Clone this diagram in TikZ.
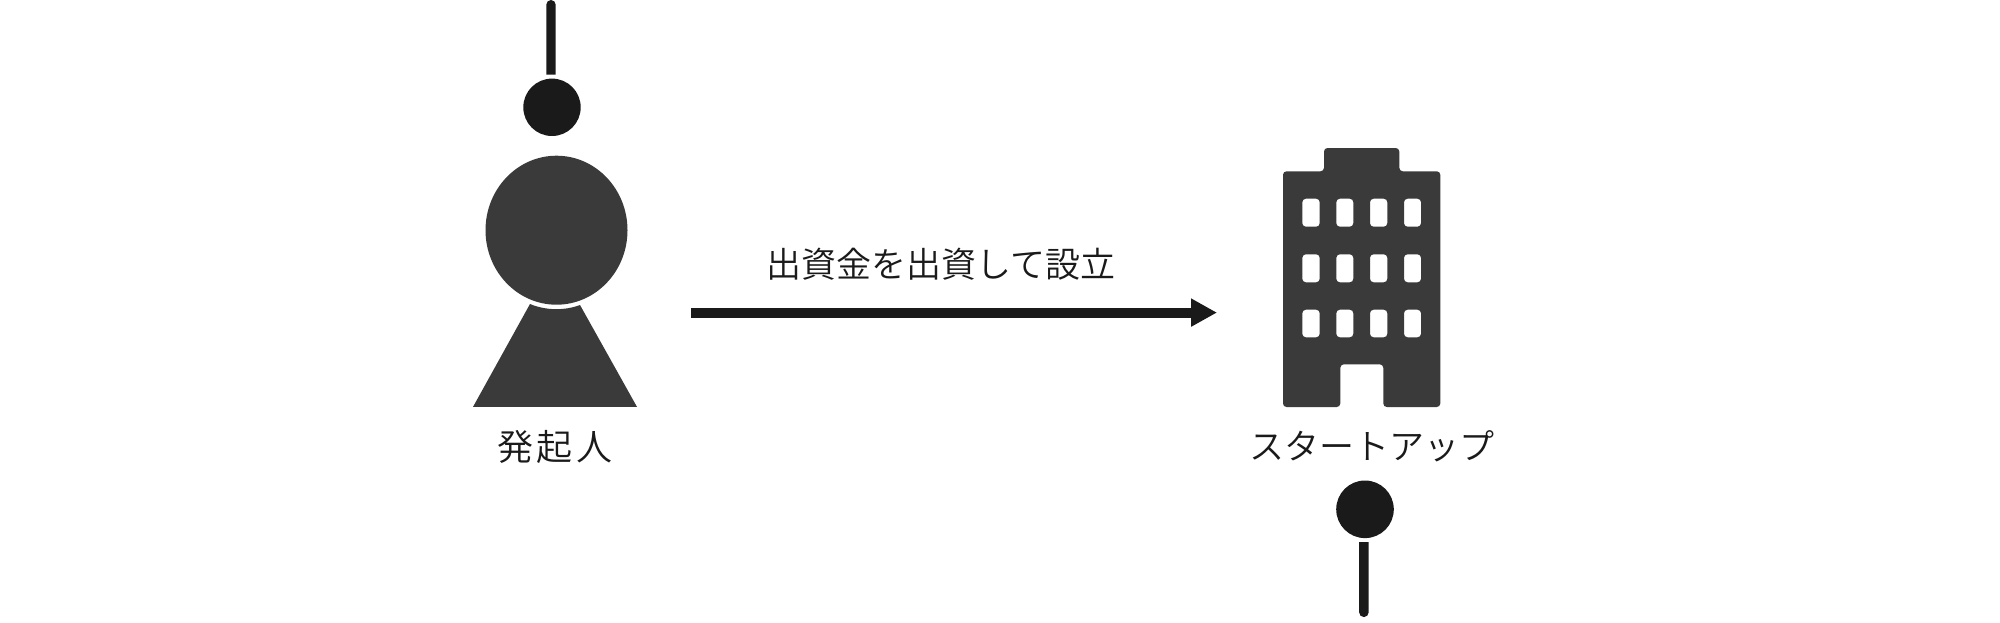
\documentclass[tikz,border=0pt]{standalone}
\usepackage{fontspec}
\usetikzlibrary{arrows.meta}
\setmainfont{Noto Sans CJK JP DemiLight}
\newfontfamily\lblA[LetterSpace=11]{Noto Sans CJK JP DemiLight}
\definecolor{shapegray}{HTML}{3A3A3A}
\definecolor{inkblack}{HTML}{1A1A1A}
\tikzset{
  x=1pt,y=-1pt,
  shapefill/.style={fill=shapegray,draw=none},
  inkfill/.style={fill=inkblack,draw=none},
  lbl/.style={inner sep=0pt,text=inkblack,font=\fontsize{35}{35}\selectfont,anchor=center},
  flow/.style={draw=inkblack,line width=9.8pt,-{Triangle[length=26pt,width=26.5pt]}}
}
\begin{document}
\begin{tikzpicture}
\useasboundingbox (0,0) rectangle (2000,622);
% top marker
\path[inkfill] (546.3,74.5) -- (546.3,4.7) arc[start angle=180,end angle=0,radius=4.7pt] -- (555.7,74.5) -- cycle;
\path[inkfill] (552,107.3) circle[radius=28.7pt];
% founder
\path[shapefill] (556.5,230.2) ellipse[x radius=71pt,y radius=74.5pt];
\path[shapefill] (473,406.9) -- (530,304) .. controls (546,310.7) and (565,310.7) .. (580,305) -- (637,406.9) -- cycle;
\node[lbl] (founder) at (555,446.5) {\fontsize{36}{36}\selectfont\lblA 発起人};
% arrow
\coordinate (flowstart) at (691,312.6);
\coordinate (flowend) at (1217,312.6);
\draw[flow] (flowstart) -- (flowend);
\node[lbl] (flowlabel) at (941,264) {出資金を出資して設立};
% building
\path[shapefill,even odd rule,rounded corners=3.5pt]
  (1283,171.3) -- (1324,171.3) -- (1324,148) -- (1399.3,148) -- (1399.3,171.3) -- (1440.3,171.3)
  -- (1440.3,407) -- (1383.3,407) -- (1383.3,364.3) -- (1340.3,364.3) -- (1340.3,407) -- (1283,407) -- cycle
  \foreach \y/\Y in {198.7/226.7,254.3/282.3,309.7/337.3}{
    \foreach \x/\X in {1302.3/1319.7,1336.3/1353.3,1370/1387.3,1404/1421}{
      (\x,\y) rectangle (\X,\Y)
    }
  };
\node[lbl] (startup) at (1372,446) {スタートアップ};
% bottom marker
\path[inkfill] (1365,509.3) circle[radius=28.8pt];
\path[inkfill] (1359.1,542) -- (1359.1,612.3) arc[start angle=180,end angle=360,radius=4.8pt] -- (1368.7,542) -- cycle;
\end{tikzpicture}
\end{document}
